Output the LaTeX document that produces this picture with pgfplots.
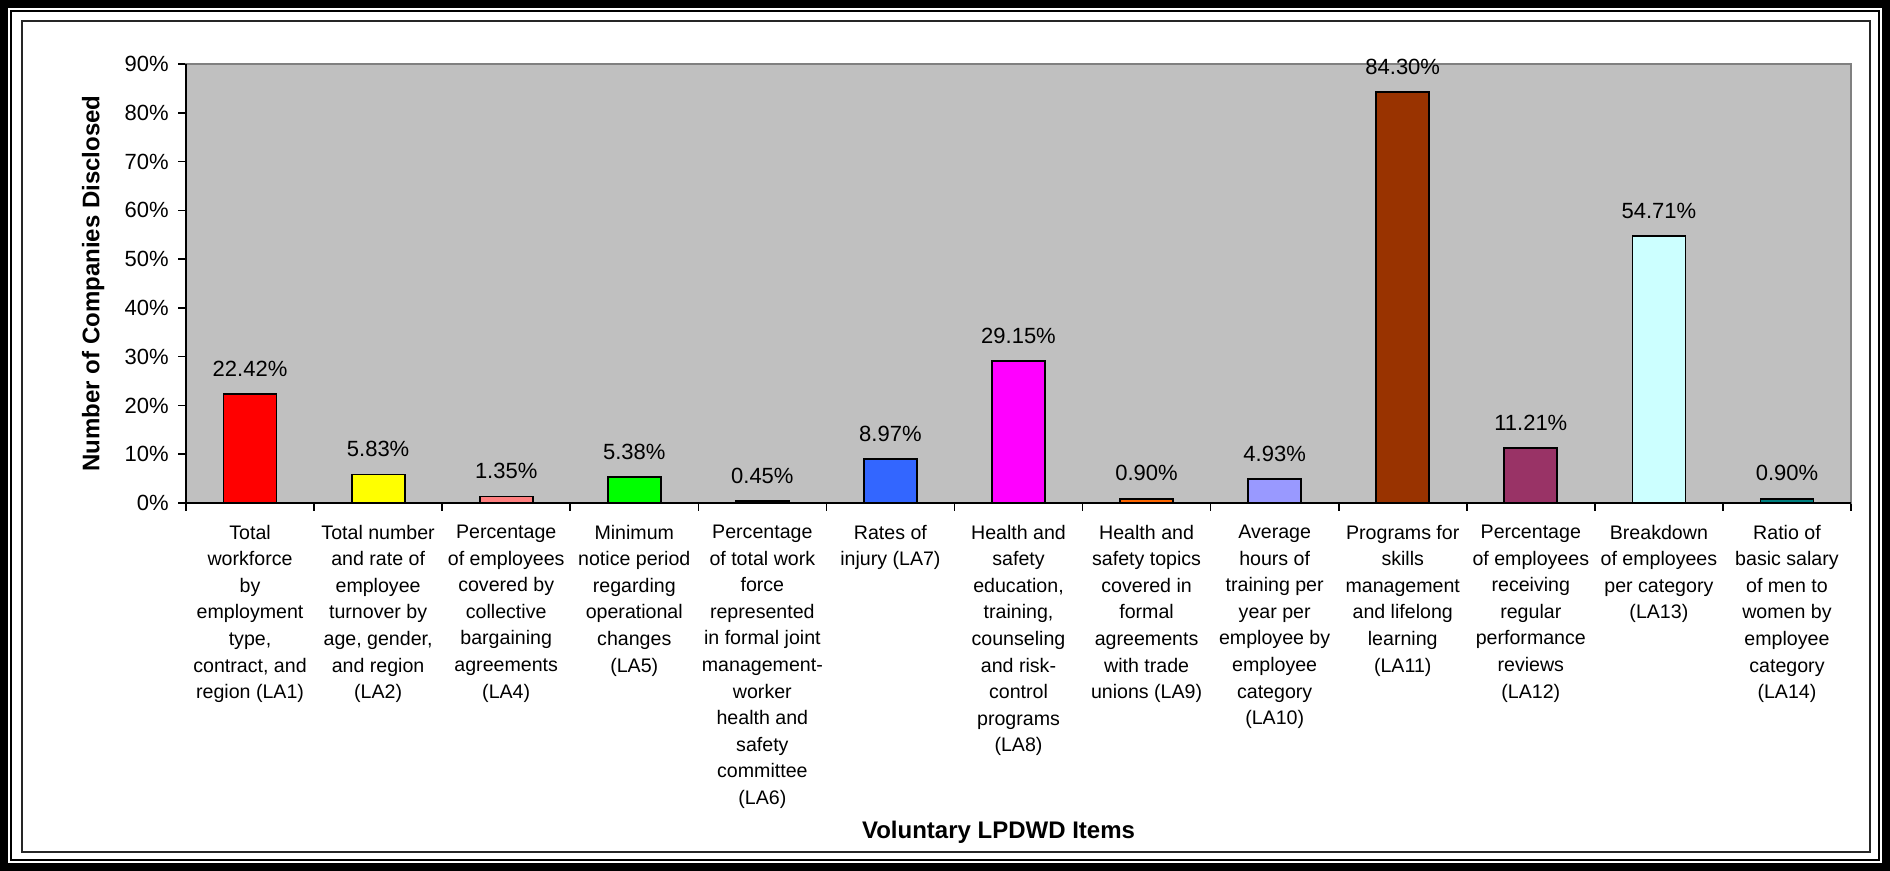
\documentclass[border=0pt]{standalone}
\usepackage{fontspec}
\setmainfont{Liberation Sans}
\usepackage{pgfplots}
\pgfplotsset{compat=1.18}
\definecolor{bgray}{RGB}{192,192,192}
\definecolor{fgray}{RGB}{128,128,128}
\definecolor{cA}{RGB}{255,0,0}
\definecolor{cB}{RGB}{255,255,0}
\definecolor{cC}{RGB}{255,128,128}
\definecolor{cD}{RGB}{0,255,0}
\definecolor{cE}{RGB}{20,20,20}
\definecolor{cF}{RGB}{51,102,255}
\definecolor{cG}{RGB}{255,0,255}
\definecolor{cH}{RGB}{255,102,0}
\definecolor{cI}{RGB}{153,153,255}
\definecolor{cJ}{RGB}{153,51,0}
\definecolor{cK}{RGB}{153,51,102}
\definecolor{cL}{RGB}{204,255,255}
\definecolor{cM}{RGB}{0,128,128}
\begin{document}
\begin{tikzpicture}
\fill[black] (0,0) rectangle (945pt,435.5pt);
\fill[white] (4pt,4pt) rectangle (941pt,431.5pt);
\draw[black, line width=0.8pt] (5.6pt,5.6pt) rectangle (939.4pt,429.9pt);
\draw[black!85, line width=1pt] (10.85pt,9.5pt) rectangle (935pt,425pt);
\begin{axis}[
  at={(93pt,184pt)}, anchor=south west,
  scale only axis, width=832.5pt, height=219.5pt,
  xmin=-0.5, xmax=12.5, ymin=0, ymax=90,
  ybar, bar width=26.5pt, bar shift=0pt,
  axis background/.style={fill=bgray},
  axis line style={draw=fgray, line width=0.8pt},
  /pgf/number format/assume math mode=true,
  tick pos=left, tick align=outside,
  major tick length=4pt, minor tick length=4pt,
  tick style={black, line width=0.8pt},
  major x tick style={draw=none},
  ytick={0,10,...,90},
  yticklabel={\pgfmathprintnumber{\tick}\%},
  yticklabel style={font=\fontsize{11}{13}\selectfont, inner sep=0pt, xshift=-4.5pt},
  xtick={0,...,12},
  minor xtick={-0.5,0.5,...,12.5},
  xticklabels={
    {Total\\workforce\\by\\employment\\type,\\contract, and\\region (LA1)},
    {Total number\\and rate of\\employee\\turnover by\\age, gender,\\and region\\(LA2)},
    {Percentage\\of employees\\covered by\\collective\\bargaining\\agreements\\(LA4)},
    {Minimum\\notice period\\regarding\\operational\\changes\\(LA5)},
    {Percentage\\of total work\\force\\represented\\in formal joint\\management-\\worker\\health and\\safety\\committee\\(LA6)},
    {Rates of\\injury (LA7)},
    {Health and\\safety\\education,\\training,\\counseling\\and risk-\\control\\programs\\(LA8)},
    {Health and\\safety topics\\covered in\\formal\\agreements\\with trade\\unions (LA9)},
    {Average\\hours of\\training per\\year per\\employee by\\employee\\category\\(LA10)},
    {Programs for\\skills\\management\\and lifelong\\learning\\(LA11)},
    {Percentage\\of employees\\receiving\\regular\\performance\\reviews\\(LA12)},
    {Breakdown\\of employees\\per category\\(LA13)},
    {Ratio of\\basic salary\\of men to\\women by\\employee\\category\\(LA14)}},
  xticklabel style={font=\fontsize{9.8}{13.3}\selectfont, align=center, anchor=north, inner sep=0pt, yshift=-6.8pt},
  nodes near coords={\pgfmathprintnumber[fixed,fixed zerofill,precision=2]{\pgfplotspointmeta}\%},
  every node near coord/.append style={font=\fontsize{11}{13}\selectfont, inner sep=0pt, yshift=8.3pt, text=black},
  xlabel={\bfseries Voluntary LPDWD Items},
  ylabel={\bfseries Number of Companies Disclosed},
  xlabel style={font=\fontsize{12}{14}\selectfont, at={(axis description cs:0.488,-0.7494)}, anchor=center},
  ylabel style={font=\fontsize{12}{14}\selectfont, at={(axis description cs:-0.0558,0.5)}, anchor=center},
  clip=false,
]
\addplot[fill=cA, draw=black, line width=0.9pt] coordinates {(0,22.42)};
\addplot[fill=cB, draw=black, line width=0.9pt] coordinates {(1,5.83)};
\addplot[fill=cC, draw=black, line width=0.9pt] coordinates {(2,1.35)};
\addplot[fill=cD, draw=black, line width=0.9pt] coordinates {(3,5.38)};
\addplot[fill=cE, draw=black, line width=0.9pt] coordinates {(4,0.45)};
\addplot[fill=cF, draw=black, line width=0.9pt] coordinates {(5,8.97)};
\addplot[fill=cG, draw=black, line width=0.9pt] coordinates {(6,29.15)};
\addplot[fill=cH, draw=black, line width=0.9pt] coordinates {(7,0.90)};
\addplot[fill=cI, draw=black, line width=0.9pt] coordinates {(8,4.93)};
\addplot[fill=cJ, draw=black, line width=0.9pt] coordinates {(9,84.30)};
\addplot[fill=cK, draw=black, line width=0.9pt] coordinates {(10,11.21)};
\addplot[fill=cL, draw=black, line width=0.9pt] coordinates {(11,54.71)};
\addplot[fill=cM, draw=black, line width=0.9pt] coordinates {(12,0.90)};
\draw[black, line width=0.8pt] (rel axis cs:0,1) -- (rel axis cs:0,0) -- (rel axis cs:1,0);
\end{axis}
\pgfresetboundingbox
\path[use as bounding box] (0,0) rectangle (945pt,435.5pt);
\end{tikzpicture}
\end{document}
